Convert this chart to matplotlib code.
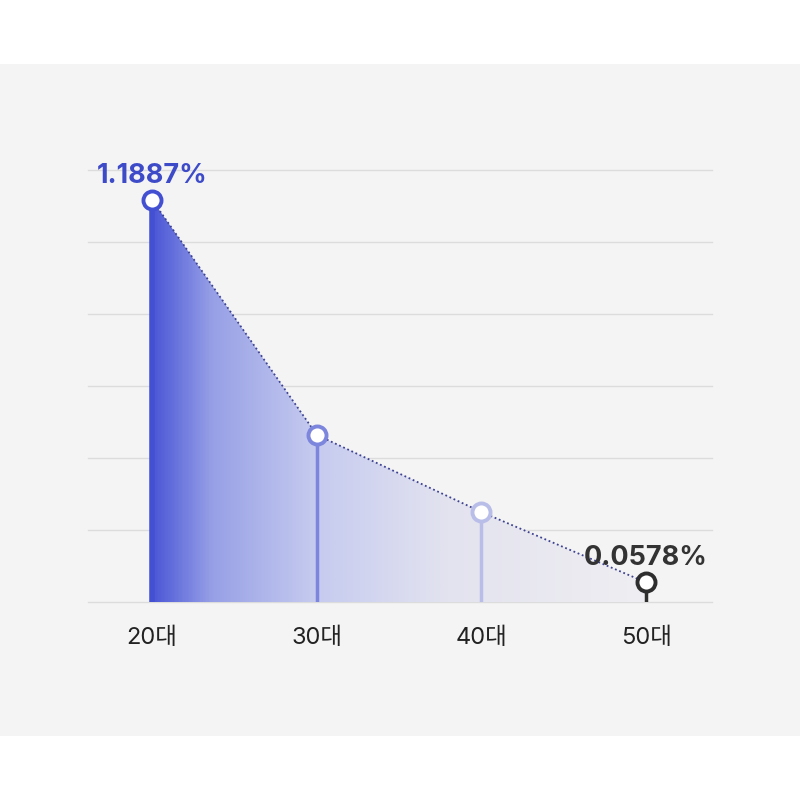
import numpy as np
import matplotlib.pyplot as plt
from matplotlib.colors import LinearSegmentedColormap
from matplotlib.patches import Polygon, Rectangle

plt.rcParams['font.family'] = ['Inter', 'Noto Sans CJK KR', 'DejaVu Sans']

# data
ages = ['20대', '30대', '40대', '50대']
rates = [1.1887, 0.494, 0.266, 0.0578]
labels = ['1.1887%', '', '', '0.0578%']
stem_colors = ['#4350d2', '#7c86dc', '#b9bee9', '#2e2e2e']
label_colors = ['#3d4bc9', None, None, '#333333']

grid_step = 0.2129
n_grid = 6

fig = plt.figure(figsize=(8, 8), dpi=100)
fig.patch.set_facecolor('white')
fig.patches.append(Rectangle((0, 0.08), 1, 0.8395, transform=fig.transFigure,
                             facecolor='#f4f4f4', edgecolor='none', zorder=-10))

ax = fig.add_axes([0.11, 0.2475, 0.78, 0.54])
ax.set_facecolor('none')
ax.set_xlim(-0.39, 3.40)
ax.set_ylim(0, grid_step * n_grid)

for i in range(n_grid + 1):
    ax.axhline(grid_step * i, color='#dcdcdc', lw=1, zorder=0, clip_on=False)

x = np.arange(len(ages))

# gradient fill under the line
cmap = LinearSegmentedColormap.from_list('g', [
    (0.0, '#4b57d7'), (0.12, '#97a0e6'), (0.33, '#c6cbef'),
    (0.6, '#e3e3ef'), (1.0, '#efeef2')])
grad = np.linspace(0, 1, 400).reshape(1, -1)
im = ax.imshow(grad, cmap=cmap, aspect='auto', extent=[0, 3, 0, max(rates)],
               origin='lower', zorder=1)
poly = Polygon(list(zip(x, rates)) + [(3, 0), (0, 0)], closed=True,
               facecolor='none', edgecolor='none')
ax.add_patch(poly)
im.set_clip_path(poly)

ax.plot(x, rates, color='#3d4290', lw=1.3, ls=(0, (1, 1.5)), zorder=2)

for i in range(len(ages)):
    lw = 4 if i == 0 else 2.5
    ax.plot([x[i], x[i]], [0, rates[i]], color=stem_colors[i], lw=lw, zorder=3,
            solid_capstyle='butt')
    ax.plot(x[i], rates[i], 'o', ms=13, mfc='white', mec=stem_colors[i],
            mew=2.8, zorder=4, clip_on=False)
    if labels[i]:
        ax.annotate(labels[i], (x[i], rates[i]), xytext=(0, 8),
                    textcoords='offset points', ha='center', va='bottom',
                    fontsize=19.5, fontweight='bold', color=label_colors[i],
                    zorder=5, annotation_clip=False)

ax.set_xticks(x)
ax.set_xticklabels(ages, fontsize=17, color='#222222')
ax.tick_params(axis='x', length=0, pad=18)
ax.set_yticks([])
for s in ax.spines.values():
    s.set_visible(False)

fig.savefig('out.png', dpi=100)
